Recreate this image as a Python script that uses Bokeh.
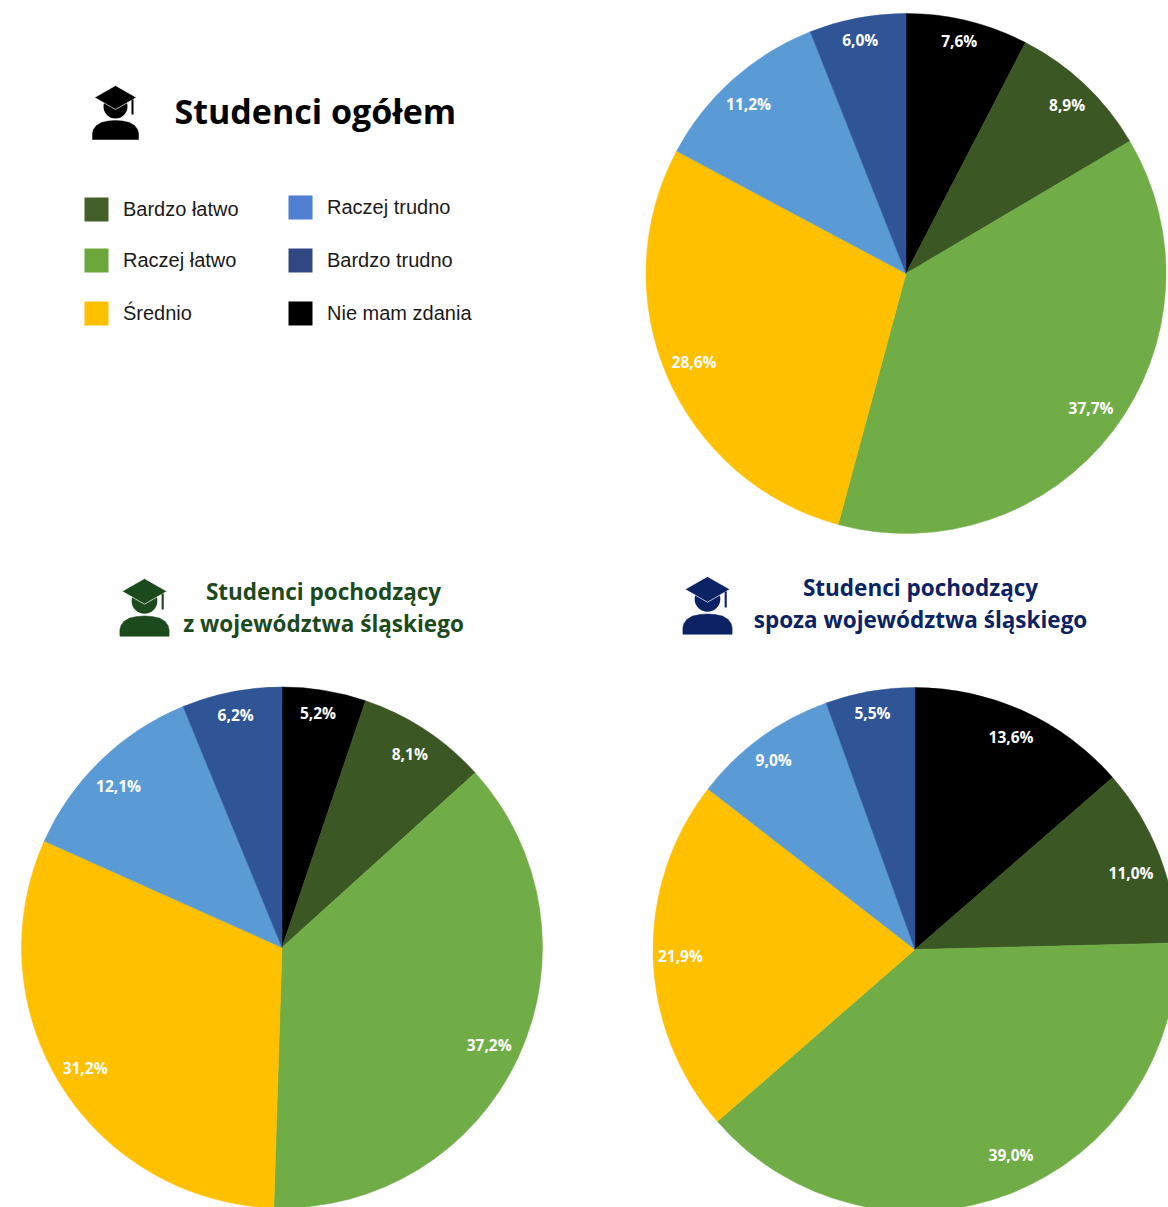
from math import pi, sin, cos, sqrt
from bokeh.plotting import figure
from bokeh.models import Range1d, ColumnDataSource
from bokeh.core.properties import value
from bokeh.embed import file_html
from bokeh.resources import INLINE

# ---- data ----
categories = ["Nie mam zdania", "Bardzo łatwo", "Raczej łatwo", "Średnio", "Raczej trudno", "Bardzo trudno"]
pie_colors = ["#000000", "#3B5723", "#70AD47", "#FFC000", "#5B9BD5", "#2F5597"]
ogolem = [7.6, 8.9, 37.7, 28.6, 11.2, 6.0]
slaskie = [5.2, 8.1, 37.2, 31.2, 12.1, 6.2]
spoza = [13.6, 11.0, 39.0, 21.9, 9.0, 5.5]
legend_left = ["Bardzo łatwo", "Raczej łatwo", "Średnio"]
legend_left_colors = ["#43602B", "#6CA73C", "#FFC000"]
legend_right = ["Raczej trudno", "Bardzo trudno", "Nie mam zdania"]
legend_right_colors = ["#4E7FD0", "#2F4782", "#000000"]
title_main = "Studenci ogółem"
title_sl = ["Studenci pochodzący", "z województwa śląskiego"]
title_sp = ["Studenci pochodzący", "spoza województwa śląskiego"]

W, H = 1168, 1207
p = figure(width=W, height=H, x_range=Range1d(0, W), y_range=Range1d(0, H),
           output_backend="svg", toolbar_location=None, min_border=0)
p.axis.visible = False
p.grid.visible = False
p.outline_line_color = None
p.background_fill_color = "#FFFFFF"
p.border_fill_color = "#FFFFFF"


def Y(py):
    return H - py


def label_radius(theta, R, hw=23, hh=8, pad=8):
    # distance along the mid-angle at which the label box's outer corner is just inside the rim
    sx, cy = abs(sin(theta)), abs(cos(theta))
    target = R - pad
    lo, hi = 0, R
    for _ in range(40):
        m = (lo + hi) / 2
        if sqrt((m * sx + hw) ** 2 + (m * cy + hh) ** 2) < target:
            lo = m
        else:
            hi = m
    return lo


def pie(vals, cx, cy, R, nudges):
    total = sum(vals)
    cum = 0
    starts, ends, lx, ly, txt = [], [], [], [], []
    for i, v in enumerate(vals):
        a0 = cum / total * 2 * pi
        a1 = (cum + v) / total * 2 * pi
        mid = (a0 + a1) / 2
        starts.append(pi / 2 - a0)
        ends.append(pi / 2 - a1)
        r = label_radius(mid, R)
        lx.append(cx + r * sin(mid) + nudges[i][0])
        ly.append(Y(cy) + r * cos(mid) - nudges[i][1] - 1)
        txt.append(f"{v:.1f}".replace(".", ",") + "%")
        cum += v
    src = ColumnDataSource(dict(s=starts, e=ends, c=pie_colors, name=categories,
                                lx=lx, ly=ly, t=txt, x=[cx] * len(vals), y=[Y(cy)] * len(vals)))
    p.wedge(x="x", y="y", radius=R, start_angle="s", end_angle="e", direction="clock",
            fill_color="c", line_color="c", line_width=0.5, source=src)
    p.text(x="lx", y="ly", text="t", text_color="#FFFFFF", text_font=value("Open Sans"),
           text_font_style="bold", text_font_size="15.5px", text_align="center",
           text_baseline="middle", source=src)


def icon(x0, y0, s, color):
    # graduate icon; (x0, y0) = top vertex of the cap in page pixels
    def P(pts):
        return [x0 + a * s for a, b in pts], [Y(y0 + b * s) for a, b in pts]
    shoulders = [(-23, 54), (-23, 48), (-22, 44), (-19, 40), (-14, 37), (-7, 35.5), (0, 35),
                 (7, 35.5), (14, 37), (19, 40), (22, 44), (23, 48), (23, 54)]
    xs, ys = P(shoulders)
    p.patch(xs, ys, fill_color=color, line_color=color, line_width=0.5)
    hx, hy = P([(0, 21)])
    p.circle(hx, hy, radius=12 * s, fill_color=color, line_color=None)
    xs, ys = P([(0, 0), (21, 12), (0, 24), (-21, 12)])
    p.patch(xs, ys, fill_color=color, line_color="#FFFFFF", line_width=0.7)
    xs, ys = P([(16, 14), (18, 14), (18, 29), (16, 29)])
    p.patch(xs, ys, fill_color=color, line_color=None)


def label(x, y, s, size, color, font, bold=False, align="left"):
    p.text([x], [Y(y)], text=[s], text_color=color, text_font=value(font),
           text_font_style="bold" if bold else "normal", text_font_size=f"{size}px",
           text_align=align, text_baseline="middle")


pie(ogolem, 905.5, 273, 260, [(-3, -2), (3, -2), (3, -5), (-3, -3), (-4, 1), (-1, 0)])
pie(slaskie, 281.5, 947, 260.5, [(-3, 1), (0, 0), (0, 1), (-3, -2), (-3, 3), (0, 1)])
pie(spoza, 914.5, 949, 262, [(-2, 2), (2, 6), (10, -17), (-4, -1), (-4, -1), (-1, 0)])

# header block
icon(115, 85, 1.0, "#000000")
label(174, 110.5, title_main, 34, "#000000", "Open Sans", bold=True)

# legend
for name, col, top, ty in zip(legend_left, legend_left_colors, [197, 248, 301], [208, 259, 312]):
    p.quad(left=[84], right=[108], top=[Y(top)], bottom=[Y(top + 24)], fill_color=col, line_color=None)
    label(122.5, ty, name, 20, "#1A1A1A", "Liberation Sans")
for name, col, top, ty in zip(legend_right, legend_right_colors, [195, 248, 301], [206, 259, 312]):
    p.quad(left=[288], right=[312], top=[Y(top)], bottom=[Y(top + 24)], fill_color=col, line_color=None)
    label(326.5, ty, name, 20, "#1A1A1A", "Liberation Sans")

# sub-pie titles
icon(144, 578, 1.07, "#1C4A1C")
for s, y in zip(title_sl, [591, 623]):
    label(323, y, s, 22.5, "#1C4A1C", "Open Sans", bold=True, align="center")
icon(707, 576, 1.07, "#0B2265")
for s, y in zip(title_sp, [587, 619]):
    label(920, y, s, 22.5, "#0B2265", "Open Sans", bold=True, align="center")

open("out.html", "w").write(file_html(p, INLINE))
